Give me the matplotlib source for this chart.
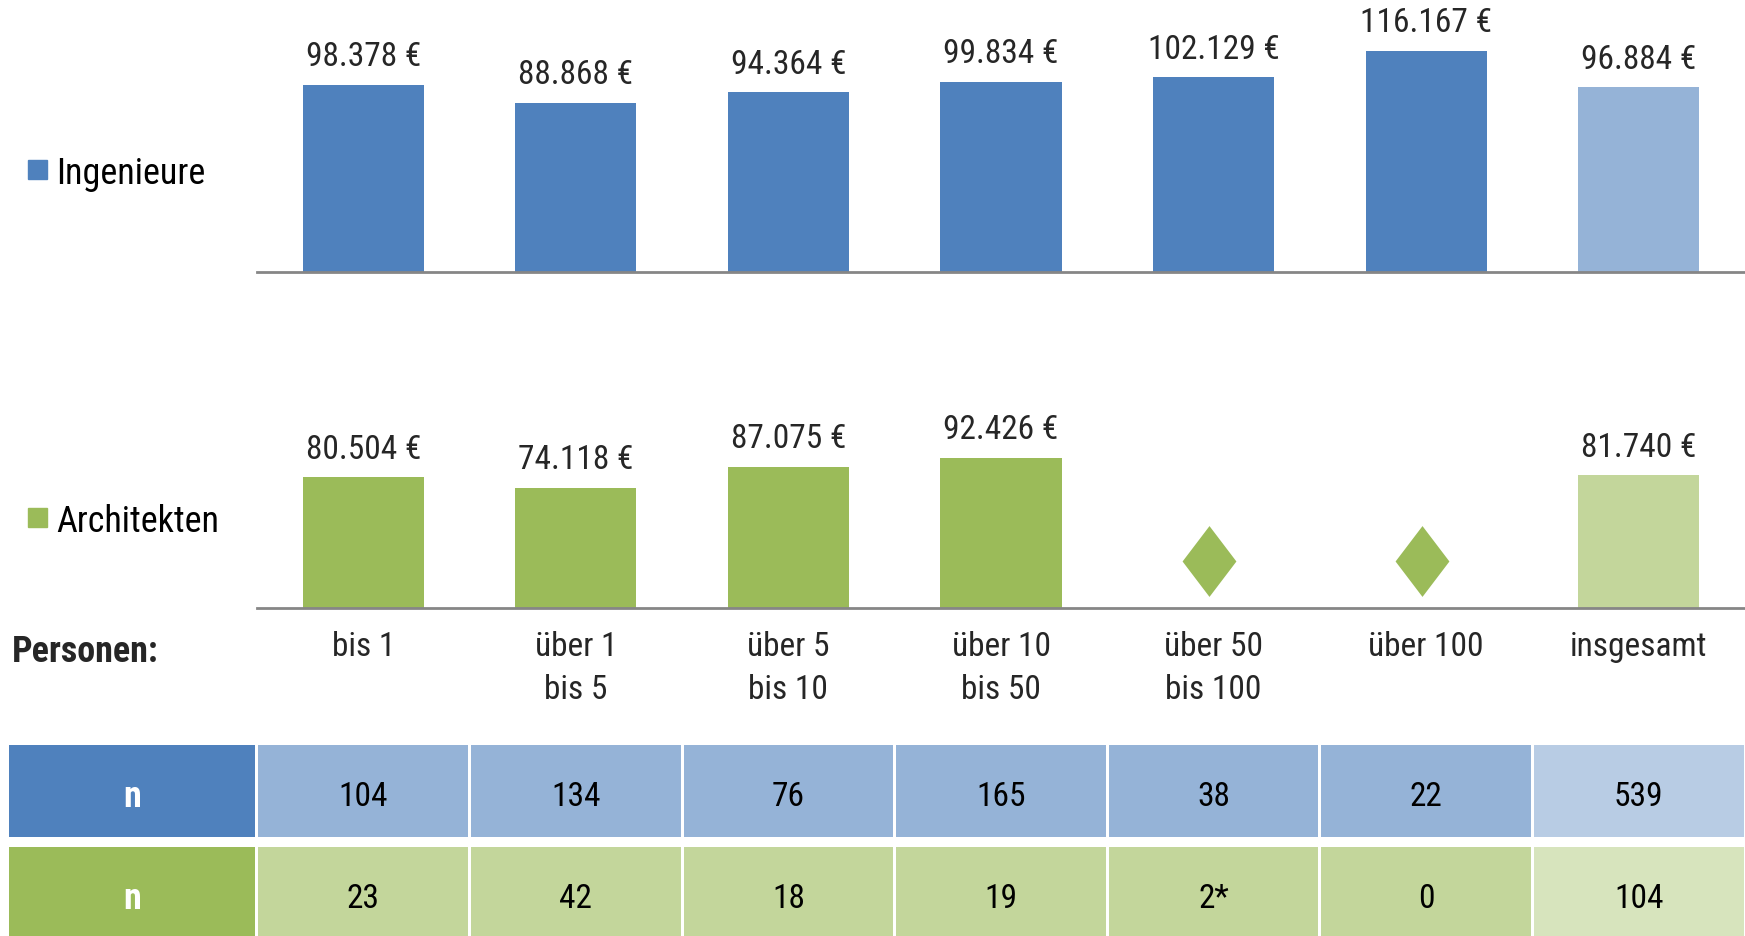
import matplotlib
matplotlib.use("Agg")
import matplotlib.pyplot as plt
from matplotlib.patches import Rectangle
from matplotlib.path import Path

plt.rcParams['font.family'] = ['Roboto Condensed', 'Liberation Sans', 'DejaVu Sans']

# -------------------------
# Data
# -------------------------
categories = ["bis 1", "über 1\nbis 5", "über 5\nbis 10", "über 10\nbis 50",
              "über 50\nbis 100", "über 100", "insgesamt"]
ing_values = [98378, 88868, 94364, 99834, 102129, 116167, 96884]
arch_values = [80504, 74118, 87075, 92426, None, None, 81740]
ing_n = ["104", "134", "76", "165", "38", "22", "539"]
arch_n = ["23", "42", "18", "19", "2*", "0", "104"]

# -------------------------
# Colours
# -------------------------
BLUE = "#4F81BD"
BLUE_L = "#95B3D7"
BLUE_LL = "#B8CCE4"
GREEN = "#9BBB59"
GREEN_L = "#C3D69B"
GREEN_LL = "#D7E4BD"
TXT = "#262626"
AXIS = "#868686"

W, H = 1745, 937
fig = plt.figure(figsize=(W / 100, H / 100), dpi=100)

# wide diamond used where there is no value
DIAMOND = Path([(0, 1), (0.76, 0), (0, -1), (-0.76, 0), (0, 1)],
               [Path.MOVETO, Path.LINETO, Path.LINETO, Path.LINETO, Path.CLOSEPOLY])


def px_axes(x0, y0, x1, y1):
    # rectangle given in pixels from the top-left corner
    return fig.add_axes([x0 / W, 1 - y1 / H, (x1 - x0) / W, (y1 - y0) / H])


def fmt(v):
    return f"{v:,}".replace(",", ".") + " €"


x = list(range(len(categories)))


def bar_panel(ax, values, dark, light, ymax):
    colors = [dark] * (len(values) - 1) + [light]
    for i, v in enumerate(values):
        if v is None:
            ax.plot(i - 0.02, ymax * 0.17, marker=DIAMOND, markersize=51,
                    color=dark, markeredgewidth=0)
            continue
        ax.bar(i, v, width=0.57, color=colors[i])
        ax.annotate(fmt(v), (i, v), xytext=(0, 20.5), textcoords="offset points",
                    ha="center", va="center", fontsize=24, color=TXT)
    ax.set_xlim(-0.5, len(values) - 0.5)
    ax.set_ylim(0, ymax)
    for s in ["top", "right", "left"]:
        ax.spines[s].set_visible(False)
    ax.spines["bottom"].set_color(AXIS)
    ax.spines["bottom"].set_linewidth(2)
    ax.set_yticks([])


# -------------------------
# Bar panels
# -------------------------
ax_top = px_axes(257, 0, 1745, 273)
bar_panel(ax_top, ing_values, BLUE, BLUE_L, 143300)
ax_top.set_xticks([])

ax_bot = px_axes(257, 330, 1745, 609)
bar_panel(ax_bot, arch_values, GREEN, GREEN_L, 171700)
ax_bot.set_xticks(x)
ax_bot.set_xticklabels(categories, fontsize=24, color=TXT, linespacing=1.45)
ax_bot.tick_params(axis="x", length=0, pad=16)

# legend-like labels on the left
for name, col, yc in [("Ingenieure", BLUE, 171), ("Architekten", GREEN, 519)]:
    fig.add_artist(Rectangle((28 / W, 1 - (yc + 9) / H), 19 / W, 19 / H,
                             transform=fig.transFigure, color=col))
    fig.text(56 / W, 1 - (yc + 3) / H, name, fontsize=26, va="center",
             ha="left", color="black")

fig.text(12 / W, 1 - 652 / H, "Personen:", fontsize=26, fontweight="bold",
         va="center", ha="left", color=TXT)

# -------------------------
# n table
# -------------------------
ax_tab = px_axes(0, 740, 1745, 937)
slot = 212.6
left = -0.5 - 257 / slot
ax_tab.set_xlim(left, len(categories) - 0.5)
ax_tab.set_ylim(1.42, -0.51)
ax_tab.axis("off")

for row, (vals, dark, light, lighter) in enumerate(
        [(ing_n, BLUE, BLUE_L, BLUE_LL), (arch_n, GREEN, GREEN_L, GREEN_LL)]):
    hx0 = left + 9 / slot
    hx1 = -0.5 - 1.5 / slot
    ax_tab.barh(row, hx1 - hx0, left=hx0, height=0.902, color=dark)
    ax_tab.text((hx0 + hx1) / 2, row + 0.05, "n", ha="center", va="center",
                fontsize=26, fontweight="bold", color="white")
    cols = [light] * (len(vals) - 1) + [lighter]
    ax_tab.bar(x, [0.902] * len(vals), bottom=row - 0.451, width=0.986,
               color=cols)
    for i, v in enumerate(vals):
        ax_tab.text(i, row + 0.05, v, ha="center", va="center", fontsize=24,
                    color="black")

fig.savefig("out.png", dpi=100)
